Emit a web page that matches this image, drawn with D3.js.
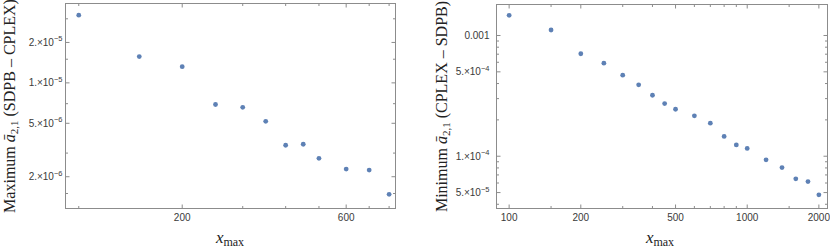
<!DOCTYPE html>
<html>
<head>
<meta charset="utf-8">
<script src="https://cdn.jsdelivr.net/npm/d3@7"></script>
<style>
  body { margin: 0; background: #fff; }
  svg { display: block; }
</style>
</head>
<body>
<div id="chart"></div>
<script>
// left panel: maximum a(2,1) difference, SDPB - CPLEX
let xmaxLeft = [100, 150, 200, 250, 300, 350, 400, 450, 500, 600, 700, 800]
let diffLeft = [3.19e-5, 1.57e-5, 1.32e-5, 6.9e-6, 6.58e-6, 5.17e-6, 3.43e-6, 3.49e-6, 2.74e-6, 2.28e-6, 2.24e-6, 1.48e-6]

// right panel: minimum a(2,1) difference, CPLEX - SDPB
let xmaxRight = [100, 150, 200, 250, 300, 350, 400, 450, 500, 600, 700, 800, 900, 1000, 1200, 1400, 1600, 1800, 2000]
let diffRight = [1.47e-3, 1.11e-3, 7.06e-4, 5.9e-4, 4.69e-4, 3.9e-4, 3.2e-4, 2.73e-4, 2.45e-4, 2.16e-4, 1.88e-4, 1.46e-4, 1.24e-4, 1.16e-4, 9.34e-5, 8.06e-5, 6.5e-5, 6.17e-5, 4.79e-5]

// tick values
let leftXLabels = [200, 600]
let leftXMinor = [100, 300, 400, 500, 700, 800]
let leftYLabels = [2e-5, 1e-5, 5e-6, 2e-6]
let leftYMinor = [3e-5, 1.5e-5, 7e-6, 3e-6, 1.5e-6]

let rightXLabels = [100, 200, 500, 1000, 2000]
let rightXMinor = [150, 300, 400, 600, 700, 800, 900, 1500]
let rightYLabels = [0.001, 5e-4, 1e-4, 5e-5]
let rightYMinor = [9e-4, 8e-4, 7e-4, 6e-4, 4e-4, 3e-4, 2e-4, 9e-5, 8e-5, 7e-5, 6e-5, 4e-5]

let width = 830
let height = 248

let svg = d3
  .select('#chart')
  .append('svg')
  .attr('width', width)
  .attr('height', height)

let frameColor = '#8c8c8c'
let labelColor = '#3a3a3a'
let dotColor = '#5e81b5'

function drawPanel(opt) {
  let g = svg.append('g')

  let x = d3.scaleLog().domain(opt.xDomain).range([opt.left, opt.right])
  let y = d3.scaleLog().domain(opt.yDomain).range([opt.bottom, opt.top])

  // frame
  g.append('rect')
    .attr('x', opt.left)
    .attr('y', opt.top)
    .attr('width', opt.right - opt.left)
    .attr('height', opt.bottom - opt.top)
    .attr('fill', 'none')
    .attr('stroke', frameColor)
    .attr('stroke-width', 1)

  let xticks = opt.xLabels.map(d => ({ v: d, len: 4 }))
    .concat(opt.xMinor.map(d => ({ v: d, len: 2.5 })))
  let yticks = opt.yLabels.map(d => ({ v: d, len: 4 }))
    .concat(opt.yMinor.map(d => ({ v: d, len: 2.5 })))

  // x ticks, bottom and top, pointing in
  g.selectAll('.xtick-b')
    .data(xticks)
    .enter()
    .append('line')
    .attr('x1', d => x(d.v))
    .attr('x2', d => x(d.v))
    .attr('y1', opt.bottom)
    .attr('y2', d => opt.bottom - d.len)
    .attr('stroke', frameColor)
  g.selectAll('.xtick-t')
    .data(xticks)
    .enter()
    .append('line')
    .attr('x1', d => x(d.v))
    .attr('x2', d => x(d.v))
    .attr('y1', opt.top)
    .attr('y2', d => opt.top + d.len)
    .attr('stroke', frameColor)

  // y ticks, left and right
  g.selectAll('.ytick-l')
    .data(yticks)
    .enter()
    .append('line')
    .attr('y1', d => y(d.v))
    .attr('y2', d => y(d.v))
    .attr('x1', opt.left)
    .attr('x2', d => opt.left + d.len)
    .attr('stroke', frameColor)
  g.selectAll('.ytick-r')
    .data(yticks)
    .enter()
    .append('line')
    .attr('y1', d => y(d.v))
    .attr('y2', d => y(d.v))
    .attr('x1', opt.right)
    .attr('x2', d => opt.right - d.len)
    .attr('stroke', frameColor)

  // x tick labels
  g.selectAll('.xlabel')
    .data(opt.xLabels)
    .enter()
    .append('text')
    .attr('x', d => x(d))
    .attr('y', opt.bottom + 12)
    .attr('text-anchor', 'middle')
    .attr('font-family', 'Liberation Sans, Arial, sans-serif')
    .attr('font-size', 10)
    .attr('fill', labelColor)
    .text(d => d)

  // y tick labels like 2.×10^-5
  let ylab = g.selectAll('.ylabel')
    .data(opt.yLabels)
    .enter()
    .append('text')
    .attr('x', opt.left - opt.labelGap)
    .attr('y', d => y(d) + 3.5)
    .attr('text-anchor', 'end')
    .attr('font-family', 'Liberation Sans, Arial, sans-serif')
    .attr('font-size', 10)
    .attr('fill', labelColor)
  ylab.each(function(d) {
    let t = d3.select(this)
    if (d >= 0.001) {
      t.text(d3.format('.3f')(d))
      return
    }
    let e = Math.floor(Math.log10(d) + 1e-9)
    let m = Math.round(d / Math.pow(10, e))
    t.append('tspan').text(m + '.\u00d710')
    t.append('tspan')
      .attr('dy', -4.5)
      .attr('font-size', 7.5)
      .text('\u2212' + (-e))
  })

  // points
  g.selectAll('.dot')
    .data(opt.xs.map((d, i) => [d, opt.ys[i]]))
    .enter()
    .append('circle')
    .attr('class', 'dot')
    .attr('cx', d => x(d[0]))
    .attr('cy', d => y(d[1]))
    .attr('r', 2.4)
    .attr('fill', dotColor)

  // x axis title
  let xt = g.append('text')
    .attr('x', opt.xTitleX)
    .attr('y', 243)
    .attr('text-anchor', 'middle')
    .attr('font-family', 'Liberation Serif, Times New Roman, serif')
    .attr('fill', '#222')
  xt.append('tspan').attr('font-size', 17).attr('font-style', 'italic').text('x')
  xt.append('tspan').attr('font-size', 12).attr('dy', 3).text('max')

  // y axis title, rotated
  let yt = g.append('text')
    .attr('transform', `translate(${opt.yTitleX},${(opt.top + opt.bottom) / 2}) rotate(-90)`)
    .attr('text-anchor', 'middle')
    .attr('font-family', 'Liberation Serif, Times New Roman, serif')
    .attr('font-size', 16)
    .attr('fill', '#222')
  yt.append('tspan').text(opt.yWord + ' ')
  yt.append('tspan').attr('font-style', 'italic').text('\u0101')
  yt.append('tspan').attr('font-size', 11).attr('dy', 3).text('2,1')
  yt.append('tspan').attr('dy', -3).text(' (' + opt.yDiff + ')')
}

drawPanel({
  xs: xmaxLeft,
  ys: diffLeft,
  xDomain: [91.5, 835],
  yDomain: [1.16e-6, 3.9e-5],
  left: 65.5,
  right: 395.5,
  top: 3.5,
  bottom: 208.5,
  xLabels: leftXLabels,
  xMinor: leftXMinor,
  yLabels: leftYLabels,
  yMinor: leftYMinor,
  labelGap: 3,
  xTitleX: 230,
  yTitleX: 15,
  yWord: 'Maximum',
  yDiff: 'SDPB \u2013 CPLEX'
})

drawPanel({
  xs: xmaxRight,
  ys: diffRight,
  xDomain: [88.5, 2174],
  yDomain: [3.69e-5, 1.806e-3],
  left: 496.5,
  right: 827.5,
  top: 4.5,
  bottom: 208.5,
  xLabels: rightXLabels,
  xMinor: rightXMinor,
  yLabels: rightYLabels,
  yMinor: rightYMinor,
  labelGap: 7,
  xTitleX: 660,
  yTitleX: 447,
  yWord: 'Minimum',
  yDiff: 'CPLEX \u2013 SDPB'
})
</script>
</body>
</html>
